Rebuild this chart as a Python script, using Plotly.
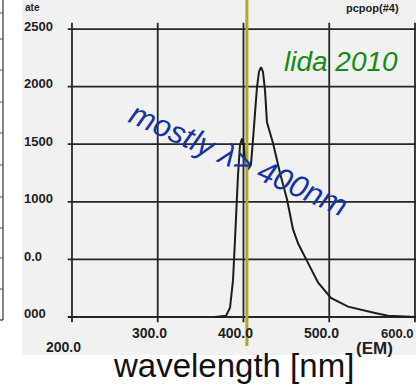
import plotly.graph_objects as go

# ---- data ----
wavelength_nm = [366.8, 379.6, 384.3, 387.8, 390.1, 391.3, 393.6, 395.9, 398.3, 400.6,
                 402.9, 405.3, 408.7, 411.1, 413.4, 415.7, 418.1, 420.4, 422.7, 425.1,
                 427.4, 434.4, 442.6, 450.8, 457.8, 463.6, 475.2, 486.9, 502.0, 521.9,
                 553.4, 568.5, 601.2]
intensity = [0, 10, 80, 320, 670, 890, 1230, 1490, 1550, 1490,
             1320, 1280, 1320, 1540, 1800, 1990, 2130, 2170, 2130, 1970,
             1690, 1510, 1250, 1020, 760, 640, 470, 300, 165, 90,
             35, 10, 0]

x_grid_vals = [200, 300, 400, 500, 600]
y_grid_vals = [0, 500, 1000, 1500, 2000, 2500]
x_tick_text = ["200.0", "300.0", "400.0", "500.0", "600.0"]
y_tick_text = ["000", "0.0", "1000", "1500", "2000", "2500"]
marker_nm = 404

# ---- layout constants ----
W, H = 416, 387
ML, MB = 22, 32
x_range = [141.7, 601.2]
y_range = [-330, 2752]
ink = "#262626"

fig = go.Figure()

# grid (bounded like the printed chart)
gx, gy = [], []
for yv in y_grid_vals:
    gx += [195, x_range[1], None]
    gy += [yv, yv, None]
for xv in x_grid_vals:
    gx += [xv, xv, None]
    gy += [-45, 2555, None]
fig.add_trace(go.Scatter(x=gx, y=gy, mode="lines",
                         line=dict(color=ink, width=1.8),
                         hoverinfo="skip", showlegend=False))

# spectrum
fig.add_trace(go.Scatter(x=wavelength_nm, y=intensity, mode="lines",
                         line=dict(color="#1c1c1c", width=2),
                         showlegend=False))

annotations = []
tick_font = dict(family="Liberation Sans, Arial", size=13, color="#1e1e1e")
for yv, txt in zip(y_grid_vals, y_tick_text):
    annotations.append(dict(x=0, xref="paper", y=yv, yref="y", text="<b>%s</b>" % txt,
                            xanchor="left", yanchor="middle", yshift=3,
                            showarrow=False, font=tick_font))
n_x = len(x_grid_vals)
for i, (xv, txt) in enumerate(zip(x_grid_vals, x_tick_text)):
    py = 347 if i == 0 else 333
    last = i == n_x - 1
    annotations.append(dict(x=1 if last else xv, xref="paper" if last else "x",
                            y=(H - MB - py) / (H - MB), yref="paper",
                            text="<b>%s</b>" % txt,
                            xanchor="right" if last else "center", yanchor="middle",
                            xshift=0 if last else -8, showarrow=False,
                            font=dict(family="Liberation Sans, Arial",
                                      size=13 if last else 14, color="#1e1e1e")))

def px_to_paper(xp, yp):
    return (xp - ML) / (W - ML), (H - MB - yp) / (H - MB)

def add_text(text, xp, yp, size, color, italic=False, bold=False, angle=0,
             xanchor="center", yanchor="middle"):
    px, py = px_to_paper(xp, yp)
    t = text
    if bold:
        t = "<b>%s</b>" % t
    if italic:
        t = "<i>%s</i>" % t
    annotations.append(dict(x=px, y=py, xref="paper", yref="paper", text=t,
                            showarrow=False, xanchor=xanchor, yanchor=yanchor,
                            textangle=angle,
                            font=dict(family="Liberation Sans, Arial", size=size, color=color)))

add_text("(EM)", 374, 348, 17, "#1e1e1e", bold=True)
add_text("pcpop(#4)", 372, 0, 11, "#1e1e1e", bold=True, yanchor="top")
add_text("ate", 23, 0, 10, "#1e1e1e", bold=True, xanchor="left", yanchor="top")
add_text("lida 2010", 341, 62, 28, "#178a17", italic=True)
add_text("mostly λ> 400nm", 238, 160, 31, "#1532a8", italic=True, angle=24)
add_text("wavelength [nm]", 233, 365, 33, "#111111")

shapes = [
    dict(type="line", xref="x", yref="paper", x0=marker_nm, x1=marker_nm,
         y0=(H - MB - 346) / (H - MB), y1=1, line=dict(color="#b2a826", width=3)),
]
# left neighbouring panel edge
lx, _ = px_to_paper(3, 0)
l0, _ = px_to_paper(0, 0)
_, ybot = px_to_paper(0, 320)
shapes.append(dict(type="line", xref="paper", yref="paper", x0=lx, x1=lx, y0=ybot, y1=1,
                   line=dict(color="#333", width=1.2)))
shapes.append(dict(type="line", xref="paper", yref="paper", x0=l0, x1=lx, y0=ybot, y1=ybot,
                   line=dict(color="#333", width=1.2)))
for yp in [13, 39, 70, 102, 133, 165, 197, 228, 258, 289]:
    _, yy = px_to_paper(0, yp)
    shapes.append(dict(type="line", xref="paper", yref="paper", x0=l0, x1=lx, y0=yy, y1=yy,
                       line=dict(color="#555", width=1)))

fig.update_layout(
    width=W, height=H,
    margin=dict(l=ML, r=0, t=0, b=MB, pad=0),
    paper_bgcolor="white",
    plot_bgcolor="#f1f1f1",
    xaxis=dict(range=x_range, showgrid=False, zeroline=False, showticklabels=False,
               ticks="", showline=False, fixedrange=True),
    yaxis=dict(range=y_range, showgrid=False, zeroline=False, showticklabels=False,
               ticks="", showline=False, fixedrange=True),
    annotations=annotations,
    shapes=shapes,
    showlegend=False,
)

fig.write_html("out.html", config={"displayModeBar": False})
